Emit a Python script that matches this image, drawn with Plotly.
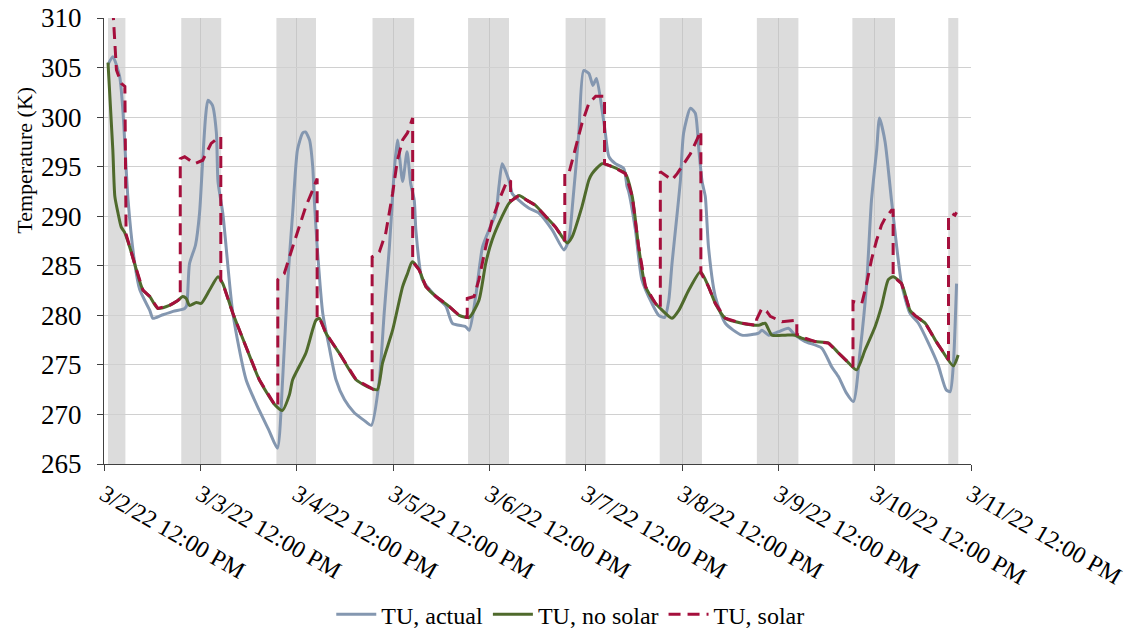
import pandas as pd
import plotly.graph_objects as go

START = pd.Timestamp("2022-03-02 12:00")

# Hours after 3/2/22 12:00 PM and temperatures (K)
actual_hours = [1.0, 2.2, 3.9, 4.7, 6.0, 7.6, 8.9, 11.4, 12.2, 14.3, 17.2, 20.1, 20.6, 21.3, 22.8,
                23.8, 24.5, 25.3, 25.9, 27.0, 28.0, 28.4, 29.6, 32.1, 35.4, 38.7, 41.2, 43.2, 44.5,
                45.8, 47.0, 48.2, 49.5, 50.2, 51.2, 52.0, 52.4, 53.1, 54.5, 56.1, 57.8, 59.9, 62.3,
                64.8, 66.6, 68.6, 69.8, 71.1, 71.9, 72.3, 73.1, 74.4, 75.5, 76.4, 77.3, 77.7, 79.3,
                82.7, 85.2, 86.8, 90.1, 91.0, 92.6, 94.3, 95.9, 97.6, 98.4, 99.2, 100.9, 101.7,
                103.4, 105.9, 108.4, 111.7, 114.6, 115.8, 116.8, 118.3, 119.5, 120.8, 121.8, 122.7,
                124.1, 124.9, 125.8, 127.4, 129.5, 130.3, 130.7, 132.4, 134.0, 136.5, 138.2, 139.7,
                140.7, 141.5, 142.8, 143.6, 144.4, 146.1, 147.3, 148.2, 149.0, 149.8, 150.6, 152.3,
                154.8, 158.9, 163.1, 163.9, 165.6, 168.1, 170.5, 172.2, 174.7, 178.8, 181.3, 183.0,
                184.9, 186.7, 188.4, 190.0, 191.2, 192.5, 193.2, 194.6, 196.2, 198.7, 200.8, 202.9,
                205.4, 207.8, 209.8, 210.8, 211.6, 212.4]
actual_temp = [305.3, 306.1, 304.1, 300.7, 291.6, 285.4, 282.6, 280.5, 279.7, 280.0, 280.4, 280.7, 281.0,
               285.2, 287.1, 290.3, 295.0, 300.0, 301.7, 301.2, 298.4, 293.5, 290.3, 280.2, 273.5,
               270.4, 268.3, 266.6, 273.5, 283.6, 290.3, 296.7, 298.4, 298.5, 297.7, 295.0, 291.6,
               287.0, 280.2, 276.8, 273.5, 271.5, 270.2, 269.4, 268.9, 273.5, 280.2, 286.9, 292.0,
               294.5, 297.7, 293.5, 296.5, 293.3, 291.6, 288.6, 283.6, 281.9, 280.9, 279.2, 278.85,
               278.5, 281.9, 286.9, 288.6, 290.3, 293.0, 295.3, 293.6, 292.3, 291.6, 290.8, 290.3,
               288.6, 286.6, 287.6, 291.5, 298.4, 304.7, 304.4, 303.2, 303.9, 300.7, 298.4, 296.0,
               295.3, 294.8, 293.0, 292.5, 288.6, 283.6, 281.2, 280.0, 279.8, 281.5, 285.2, 290.3,
               293.6, 298.4, 300.9, 300.4, 296.7, 293.5, 292.0, 286.9, 281.9, 279.2, 278.0, 278.2,
               278.5, 278.0, 278.35, 278.7, 278.0, 277.35, 276.7, 274.8, 273.8, 272.2, 271.3, 276.5,
               283.2, 291.6, 296.7, 299.9, 297.5, 291.6, 283.2, 280.2, 279.2, 277.2, 275.0, 272.5,
               272.3, 275.0, 283.2]

nosolar_hours = [1.0, 2.2, 2.7, 3.5, 4.3, 5.1, 6.4, 7.6, 9.7, 11.4, 13.4, 16.3, 18.4, 19.6, 20.5, 21.3,
                 23.0, 24.2, 26.3, 28.4, 29.6, 32.1, 35.4, 38.7, 42.5, 44.4, 46.2, 47.0, 50.3, 52.8,
                 53.7, 55.3, 58.6, 62.8, 66.1, 68.1, 69.4, 71.9, 74.4, 75.6, 76.8, 78.5, 80.2, 82.7,
                 86.0, 88.5, 91.0, 93.4, 95.1, 96.7, 99.2, 100.9, 103.4, 105.4, 107.5, 110.0, 112.5,
                 115.4, 116.6, 119.1, 120.8, 121.6, 124.1, 126.6, 129.9, 131.6, 133.2, 134.9, 137.4,
                 140.7, 141.5, 143.2, 145.7, 148.6, 150.6, 152.3, 154.8, 158.9, 163.1, 164.7, 166.4,
                 169.7, 172.2, 173.8, 177.2, 180.5, 183.0, 185.5, 187.5, 189.6, 192.1, 193.7, 195.4,
                 196.6, 198.7, 200.8, 202.0, 204.6, 207.1, 208.7, 211.6, 212.8]
nosolar_temp = [305.5, 296.7, 292.0, 290.3, 288.9, 288.4, 286.9, 285.25, 282.55, 281.9, 280.7, 281.0,
                281.5, 281.9, 281.7, 281.0, 281.3, 281.2, 282.55, 283.9, 283.2, 280.2, 276.8, 273.5,
                271.0, 270.4, 272.0, 273.5, 276.2, 279.5, 279.7, 278.2, 276.2, 273.5, 272.7, 272.5,
                275.2, 278.5, 282.9, 284.2, 285.4, 284.6, 282.9, 281.9, 280.9, 280.0, 279.8, 281.5,
                285.25, 287.6, 290.0, 291.3, 292.1, 291.6, 291.1, 290.0, 288.9, 287.3, 287.9, 291.0,
                293.65, 294.3, 295.3, 295.0, 294.3, 292.0, 286.9, 282.9, 281.2, 279.9, 279.7, 280.5,
                282.55, 284.4, 282.9, 281.2, 279.7, 279.2, 279.0, 279.2, 278.0, 278.0, 278.0, 277.7,
                277.35, 277.2, 276.2, 275.2, 274.5, 276.5, 278.85, 280.9, 283.6, 283.9, 283.2, 280.5,
                280.0, 279.2, 277.5, 276.5, 274.9, 276.0]

solar_hours = [2.2, 3.1, 4.3, 5.2, 5.5, 6.4, 7.6, 9.7, 11.4, 13.4, 16.3, 18.4, 19.0, 19.0, 20.1, 22.6,
               24.6, 26.7, 28.4, 29.1, 29.1, 29.6, 32.1, 35.4, 38.7, 42.5, 43.3, 43.3, 44.9, 47.0,
               48.7, 50.3, 52.0, 53.1, 53.1, 53.7, 55.3, 58.6, 62.8, 66.1, 66.8, 66.8, 67.7, 68.6,
               70.2, 71.9, 73.1, 74.4, 75.6, 76.9, 76.9, 78.5, 80.2, 82.7, 86.0, 88.5, 90.5, 90.5,
               92.2, 93.4, 95.1, 96.7, 98.8, 100.5, 101.3, 101.3, 103.4, 105.4, 107.5, 110.0, 112.5,
               114.8, 114.8, 115.8, 117.5, 119.1, 120.8, 122.5, 124.7, 124.7, 126.6, 129.9, 131.6,
               133.2, 134.9, 137.4, 138.6, 138.6, 140.3, 141.5, 142.8, 144.4, 146.1, 147.3, 148.7,
               148.7, 150.6, 152.3, 154.8, 158.9, 162.6, 162.6, 163.9, 165.1, 166.0, 168.9, 171.4,
               172.6, 172.6, 174.7, 177.2, 180.5, 183.0, 185.5, 186.6, 186.6, 188.8, 190.0, 191.2,
               192.5, 193.7, 194.6, 196.2, 196.6, 196.6, 198.7, 200.8, 202.0, 204.6, 207.1, 208.7,
               210.4, 210.4, 211.2, 212.0, 212.4]
solar_temp = [311.0, 304.75, 303.4, 303.1, 288.2, 286.9, 285.25, 282.55, 281.9, 280.7, 281.0, 281.5,
              281.7, 295.8, 296.0, 295.3, 295.65, 297.35, 297.9, 298.0, 283.5, 283.2, 280.2, 276.8,
              273.5, 271.0, 270.8, 283.6, 284.2, 286.9, 288.9, 291.0, 292.65, 293.8, 279.6, 279.7,
              278.2, 276.2, 273.5, 272.7, 272.6, 285.9, 286.1, 286.4, 288.3, 292.3, 295.65, 297.7,
              298.4, 299.9, 285.4, 284.6, 282.9, 281.9, 280.9, 280.0, 279.8, 281.7, 281.9, 283.6,
              286.9, 289.6, 292.0, 293.65, 293.5, 291.5, 292.1, 291.6, 291.1, 290.0, 288.9, 287.5,
              294.3, 294.3, 297.0, 299.4, 301.4, 302.1, 302.1, 295.3, 295.0, 294.3, 292.0, 286.9,
              282.9, 281.2, 280.7, 294.5, 294.0, 293.65, 294.3, 295.3, 296.3, 297.35, 298.6, 284.3,
              282.9, 281.2, 279.7, 279.2, 279.0, 279.6, 280.7, 280.4, 279.9, 279.35, 279.5, 279.5,
              278.1, 277.7, 277.35, 277.2, 276.2, 275.2, 274.8, 281.4, 281.2, 283.2, 285.6, 287.6,
              289.1, 289.8, 290.6, 290.6, 283.9, 283.2, 280.5, 280.0, 279.2, 277.5, 276.5, 275.5,
              290.0, 290.3, 290.1, 290.4]

# Daylight periods shaded behind the curves
daylight_start = ["2022-03-02 13:00", "2022-03-03 07:15", "2022-03-04 06:57", "2022-03-05 06:54",
                  "2022-03-06 06:42", "2022-03-07 07:00", "2022-03-08 06:27", "2022-03-09 06:39",
                  "2022-03-10 06:27", "2022-03-11 06:20"]
daylight_end = ["2022-03-02 17:20", "2022-03-03 17:12", "2022-03-04 16:49", "2022-03-05 17:16",
                "2022-03-06 16:54", "2022-03-07 16:56", "2022-03-08 16:58", "2022-03-09 17:00",
                "2022-03-10 17:04", "2022-03-11 08:50"]

tick_times = ["2022-03-%02d 12:00" % d for d in range(2, 12)]
tick_labels = ["3/%d/22 12:00 PM" % d for d in range(2, 12)]


def to_time(hours):
    return [START + pd.Timedelta(hours=h) for h in hours]


FONT = "Liberation Serif, Times New Roman, serif"
AXIS_COLOR = "#404040"

fig = go.Figure()
fig.add_trace(go.Scatter(x=to_time(actual_hours), y=actual_temp, mode="lines", name="TU, actual",
                         line=dict(color="#8497b0", width=3, shape="spline", smoothing=0.6)))
fig.add_trace(go.Scatter(x=to_time(nosolar_hours), y=nosolar_temp, mode="lines", name="TU, no solar",
                         line=dict(color="#4f6a2c", width=3, shape="spline", smoothing=0.6)))
fig.add_trace(go.Scatter(x=to_time(solar_hours), y=solar_temp, mode="lines", name="TU, solar",
                         line=dict(color="#a50f3c", width=3, dash="12px,7px")))

for s, e in zip(daylight_start, daylight_end):
    fig.add_shape(type="rect", xref="x", yref="paper", x0=s, x1=e, y0=0, y1=1,
                  fillcolor="#dcdcdc", line_width=0, layer="below")

# Axis title placed beside the upper part of the temperature axis
fig.add_annotation(text="Temperature (K)", xref="paper", yref="paper", x=-0.0911, y=0.68,
                   xanchor="center", yanchor="middle", textangle=-90, showarrow=False,
                   font=dict(family=FONT, size=22, color="black"))

fig.update_layout(
    width=1136, height=631,
    margin=dict(l=104, r=165, t=18, b=167, autoexpand=False),
    paper_bgcolor="white", plot_bgcolor="white",
    font=dict(family=FONT, size=24, color="black"),
    showlegend=True,
    legend=dict(orientation="h", xref="container", yref="container", x=0.502, xanchor="center",
                y=0.026, yanchor="middle", font=dict(family=FONT, size=24),
                itemwidth=40, tracegroupgap=0),
    xaxis=dict(range=[tick_times[0], tick_times[-1]], tickvals=tick_times, ticktext=tick_labels,
               tickangle=30, showgrid=True, gridcolor="#c8c8c8", gridwidth=1,
               showline=True, linecolor=AXIS_COLOR, linewidth=1, automargin=False,
               ticks="outside", ticklen=6, tickcolor=AXIS_COLOR,
               tickfont=dict(family=FONT, size=24), zeroline=False),
    yaxis=dict(range=[265, 310], dtick=5, showgrid=True, gridcolor="#d0d0d0", gridwidth=1,
               showline=True, linecolor=AXIS_COLOR, linewidth=1, automargin=False,
               ticks="outside", ticklen=6, tickcolor=AXIS_COLOR, ticklabelstandoff=10,
               tickfont=dict(family=FONT, size=27), zeroline=False),
)

fig.write_html("out.html")
